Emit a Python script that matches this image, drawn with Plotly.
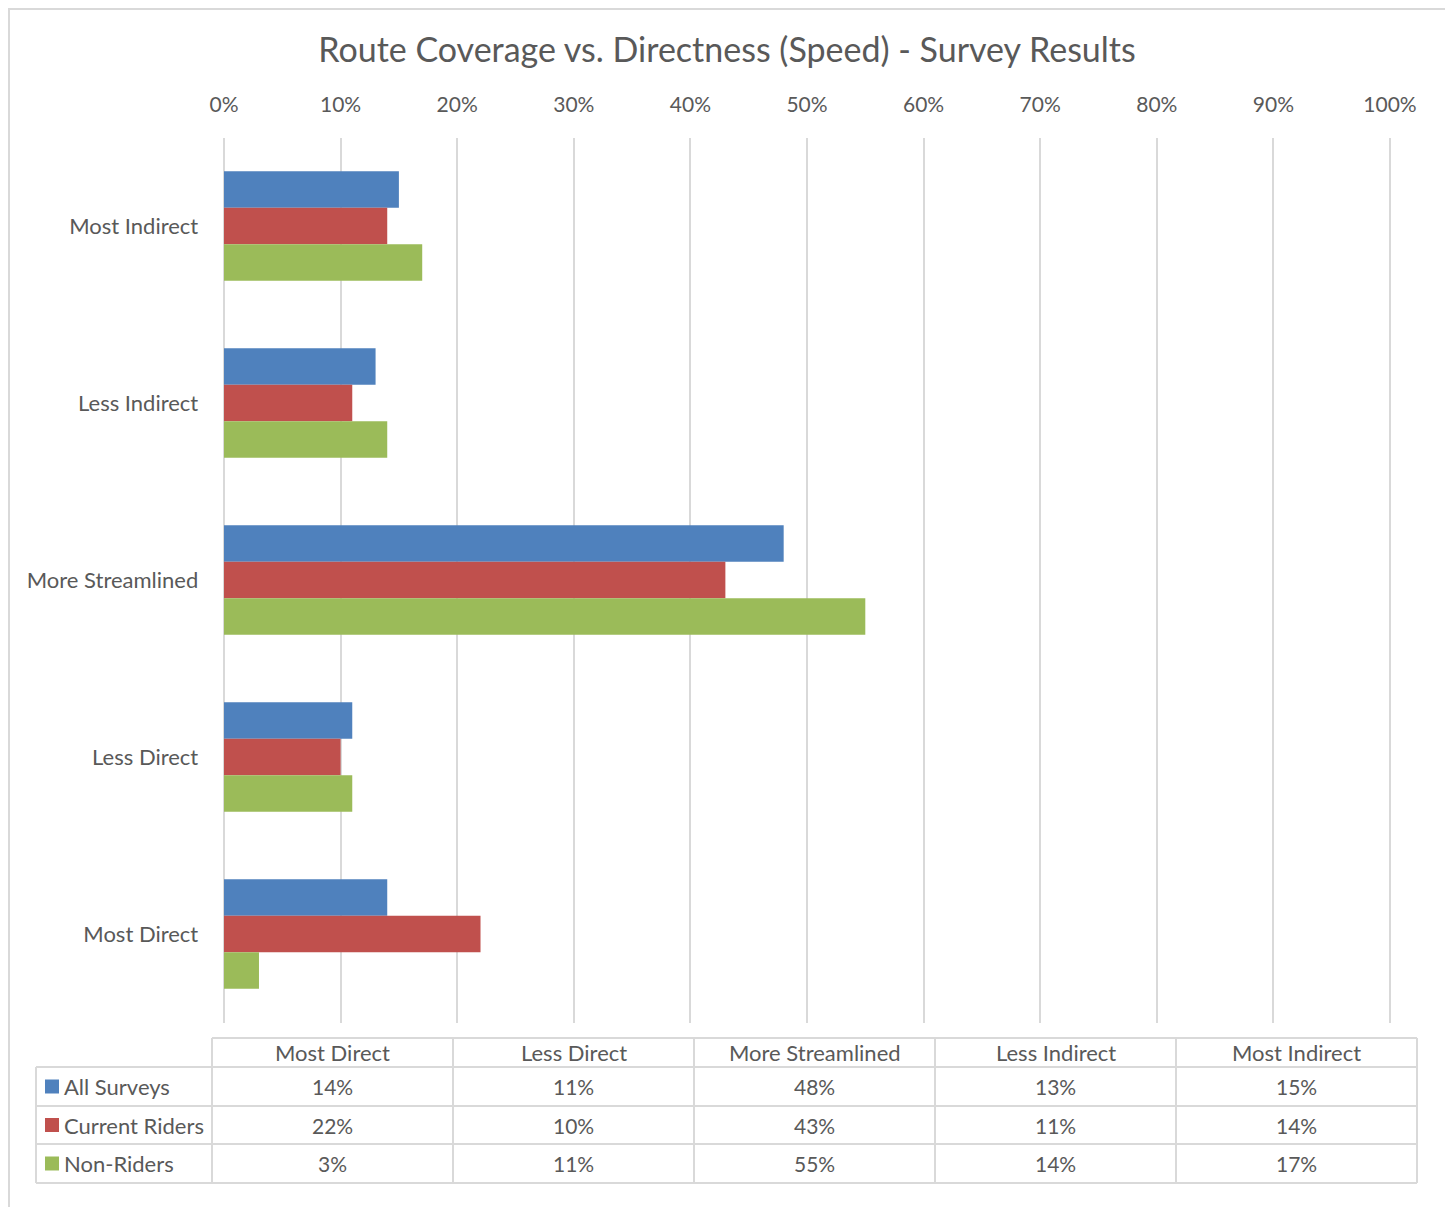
import plotly.graph_objects as go

categories = ["Most Direct", "Less Direct", "More Streamlined", "Less Indirect", "Most Indirect"]
series_names = ["All Surveys", "Current Riders", "Non-Riders"]
all_surveys = [14, 11, 48, 13, 15]
current_riders = [22, 10, 43, 11, 14]
non_riders = [3, 11, 55, 14, 17]
x_ticks = list(range(0, 101, 10))
x_tick_labels = [f"{v}%" for v in x_ticks]

colors = ["#4F81BD", "#C0504D", "#9BBB59"]
series_values = [all_surveys, current_riders, non_riders]

OFF = 8  # page body margin
W, H = 1453 - OFF, 1207 - OFF
FONT = "Lato"
TXT = "#595959"
GRID = "#D9D9D9"


def fx(px):
    return (px - OFF) / W


def fy(py):
    return 1 - (py - OFF) / H


PAD = 0.2                      # small axis padding so 0% and 100% gridlines are drawn
PXU = (1390 - 224) / 100.0     # pixels per percent

fig = go.Figure()
for name, vals, col in zip(series_names, series_values, colors):
    fig.add_trace(go.Bar(
        y=categories, x=vals, name=name, orientation="h",
        marker=dict(color=col, line=dict(width=0)),
        showlegend=False,
    ))

fig.update_layout(
    width=W, height=H,
    margin=dict(l=0, r=0, t=0, b=0),
    paper_bgcolor="white", plot_bgcolor="white",
    barmode="group", bargap=0.38, bargroupgap=0,
    font=dict(family=FONT, color=TXT, size=20),
    title=dict(text="Route Coverage vs. Directness (Speed) - Survey Results",
               x=fx(727), xanchor="center", y=fy(50), yanchor="middle",
               font=dict(size=34, color=TXT, family=FONT)),
    xaxis=dict(domain=[fx(224 - PAD * PXU), fx(1390 + PAD * PXU)], range=[-PAD, 100 + PAD],
               side="top", tickvals=x_ticks, ticktext=x_tick_labels,
               showgrid=True, gridcolor=GRID, gridwidth=2,
               zeroline=False, showline=False,
               ticks="outside", ticklen=16, tickcolor="rgba(0,0,0,0)",
               tickfont=dict(size=21, color=TXT), automargin=False, fixedrange=True),
    yaxis=dict(domain=[fy(1022.5), fy(137.5)], autorange="reversed",
               categoryorder="array", categoryarray=list(reversed(categories)),
               showgrid=False, zeroline=False, showline=False,
               ticks="outside", ticklen=18, tickcolor="rgba(0,0,0,0)",
               tickfont=dict(size=22, color=TXT), automargin=False, fixedrange=True),
)

shapes = []
# outer chart border
shapes.append(dict(type="rect", xref="paper", yref="paper",
                   x0=fx(9), x1=fx(1446), y0=fy(1215), y1=fy(9),
                   line=dict(color=GRID, width=2)))
col_edges = [212, 453, 694, 935, 1176, 1417]
row_edges = [1067, 1106, 1144, 1183]
shapes.append(dict(type="line", xref="paper", yref="paper",
                   x0=fx(212), x1=fx(1417), y0=fy(1038), y1=fy(1038),
                   line=dict(color=GRID, width=2)))
for r in row_edges:
    shapes.append(dict(type="line", xref="paper", yref="paper",
                       x0=fx(36), x1=fx(1417), y0=fy(r), y1=fy(r),
                       line=dict(color=GRID, width=2)))
shapes.append(dict(type="line", xref="paper", yref="paper",
                   x0=fx(36), x1=fx(36), y0=fy(1067), y1=fy(1183),
                   line=dict(color=GRID, width=2)))
for c in col_edges:
    shapes.append(dict(type="line", xref="paper", yref="paper",
                       x0=fx(c), x1=fx(c), y0=fy(1038), y1=fy(1183),
                       line=dict(color=GRID, width=2)))

annotations = []
header_y = (1038 + 1067) / 2
for i, cat in enumerate(categories):
    cx = (col_edges[i] + col_edges[i + 1]) / 2
    annotations.append(dict(xref="paper", yref="paper", x=fx(cx), y=fy(header_y),
                            text=cat, showarrow=False, xanchor="center", yanchor="middle",
                            font=dict(size=22, color=TXT, family=FONT)))
for j, (name, vals, col) in enumerate(zip(series_names, series_values, colors)):
    ry = (row_edges[j] + row_edges[j + 1]) / 2
    shapes.append(dict(type="rect", xref="paper", yref="paper",
                       x0=fx(45), x1=fx(59), y0=fy(ry + 7), y1=fy(ry - 7),
                       fillcolor=col, line=dict(width=0)))
    annotations.append(dict(xref="paper", yref="paper", x=fx(62), y=fy(ry),
                            text=name, showarrow=False, xanchor="left", yanchor="middle",
                            font=dict(size=22, color=TXT, family=FONT)))
    for i, v in enumerate(vals):
        cx = (col_edges[i] + col_edges[i + 1]) / 2
        annotations.append(dict(xref="paper", yref="paper", x=fx(cx), y=fy(ry),
                                text=f"{v}%", showarrow=False, xanchor="center", yanchor="middle",
                                font=dict(size=21, color=TXT, family=FONT)))

fig.update_layout(shapes=shapes, annotations=annotations)
fig.write_html("out.html")
